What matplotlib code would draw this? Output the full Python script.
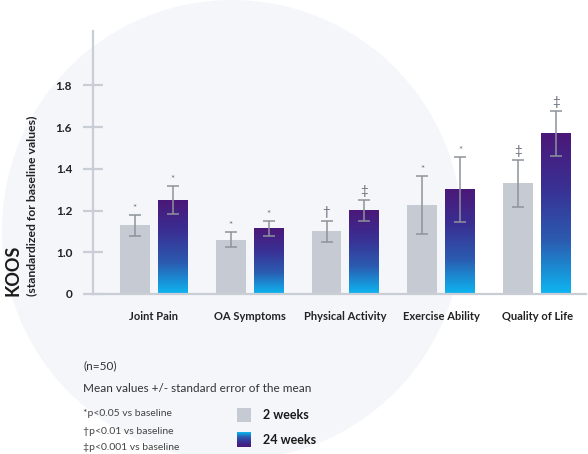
import numpy as np
import matplotlib
matplotlib.use("Agg")
import matplotlib.pyplot as plt
from matplotlib.colors import LinearSegmentedColormap
from matplotlib.patches import Ellipse, Rectangle

# data
categories = ["Joint Pain", "OA Symptoms", "Physical Activity", "Exercise Ability", "Quality of Life"]
mean_2w = [1.13, 1.06, 1.10, 1.225, 1.33]
sem_2w = [0.05, 0.037, 0.05, 0.138, 0.112]
mean_24w = [1.25, 1.115, 1.20, 1.30, 1.57]
sem_24w = [0.067, 0.036, 0.05, 0.157, 0.108]
sig_2w = ["*", "*", "†", "*", "‡"]
sig_24w = ["*", "*", "‡", "*", "‡"]
ytick_values = [0, 1.0, 1.2, 1.4, 1.6, 1.8]
ytick_labels = ["0", "1.0", "1.2", "1.4", "1.6", "1.8"]
legend_labels = ["2 weeks", "24 weeks"]
footnotes = ["*p<0.05 vs baseline", "†p<0.01 vs baseline", "‡p<0.001 vs baseline"]

W, H = 588, 454
plt.rcParams['font.family'] = ['Lato', 'DejaVu Sans']

grey = '#c6cbd3'
axis_col = '#c9cdd5'
err_col = '#8d939c'
grad = LinearSegmentedColormap.from_list('koos', ['#0db6f1', '#2b5bb0', '#3a2f93', '#4b1878'])


def fx(px):
    return px / W


def fy(py):
    return 1 - py / H


def broken(v):
    # axis jumps from 0 straight to 1.0
    v = np.asarray(v, dtype=float)
    return np.where(v >= 1.0, v - 0.8, v)


fig = plt.figure(figsize=(W / 100, H / 100), dpi=100)
fig.patch.set_facecolor('white')
fig.add_artist(Ellipse((fx(232), fy(230)), 2 * 230 / W, 2 * 230 / H,
                       transform=fig.transFigure, facecolor='#f4f6fa', edgecolor='none', zorder=0))

ax = fig.add_axes([fx(93), fy(294), fx(586) - fx(93), fy(31) - fy(294)])
ax.set_facecolor('none')

x = np.arange(len(categories))
off = 0.198
bw = 0.3125

for i in range(len(categories)):
    h2 = broken(mean_2w[i])
    ax.add_patch(Rectangle((x[i] - off - bw / 2, 0), bw, h2, facecolor=grey, edgecolor='none', zorder=2))
    h24 = broken(mean_24w[i])
    ax.imshow(np.linspace(0, 1, 256).reshape(-1, 1), cmap=grad, origin='lower', aspect='auto',
              extent=[x[i] + off - bw / 2, x[i] + off + bw / 2, 0, h24], zorder=2)

for xs, m, e, sig in [(x - off, mean_2w, sem_2w, sig_2w), (x + off, mean_24w, sem_24w, sig_24w)]:
    ax.errorbar(xs, broken(m), yerr=e, fmt='none', ecolor=err_col, elinewidth=1.1,
                capsize=4, capthick=1.1, zorder=3)
    for xi, mi, ei, s in zip(xs, m, e, sig):
        if s == "*":
            ax.annotate(s, (xi, broken(mi) + ei), xytext=(0, 1.5), textcoords='offset points',
                        ha='center', va='bottom', fontsize=7, color='#6b7079')
        else:
            ax.annotate(s, (xi, broken(mi) + ei), xytext=(0, 2), textcoords='offset points',
                        ha='center', va='bottom', fontsize=9.5, color='#6b7079')

ax.set_xlim(-0.635, 4.51)
ax.set_ylim(0, 1.26)
for s in ['top', 'right']:
    ax.spines[s].set_visible(False)
for s in ['left', 'bottom']:
    ax.spines[s].set_color(axis_col)
    ax.spines[s].set_linewidth(1.6)

ax.set_yticks(broken(ytick_values))
ax.set_yticklabels(ytick_labels, fontsize=8.5, fontweight='bold', color='#222222')
ax.tick_params(axis='y', direction='inout', length=14, width=1.6, color=axis_col, pad=8)
ax.set_xticks(x)
ax.set_xticklabels(categories, fontsize=8, fontweight='bold', color='#222222')
ax.tick_params(axis='x', length=0, pad=12)

fig.text(fx(13), fy(296), "KOOS", rotation=90, ha='center', va='bottom',
         fontsize=13, fontweight='bold', color='#1a1a1a')
fig.text(fx(32), fy(296), "(standardized for baseline values)", rotation=90, ha='center', va='bottom',
         fontsize=8.8, fontweight='bold', color='#222222')

fig.text(fx(83), fy(366), "(n=50)", ha='left', va='center', fontsize=8.5, color='#333333')
fig.text(fx(83), fy(389), "Mean values +/- standard error of the mean", ha='left', va='center',
         fontsize=8.5, color='#333333')
for k, t in enumerate(footnotes):
    fig.text(fx(83), fy(414 + 17 * k), t, ha='left', va='center', fontsize=7.5, color='#444444')

lax = fig.add_axes([0, 0, 1, 1])
lax.set_xlim(0, W)
lax.set_ylim(H, 0)
lax.axis('off')
lax.add_patch(Rectangle((237, 408), 14, 14, facecolor=grey, edgecolor='none'))
lax.imshow(np.linspace(0, 1, 64).reshape(-1, 1), cmap=grad, origin='upper', aspect='auto',
           extent=[237, 251, 447, 432])
lax.set_xlim(0, W)
lax.set_ylim(H, 0)
fig.text(fx(263), fy(415), legend_labels[0], ha='left', va='center', fontsize=9, fontweight='bold', color='#1a1a1a')
fig.text(fx(263), fy(440), legend_labels[1], ha='left', va='center', fontsize=9, fontweight='bold', color='#1a1a1a')

fig.savefig("out.png", dpi=100)
